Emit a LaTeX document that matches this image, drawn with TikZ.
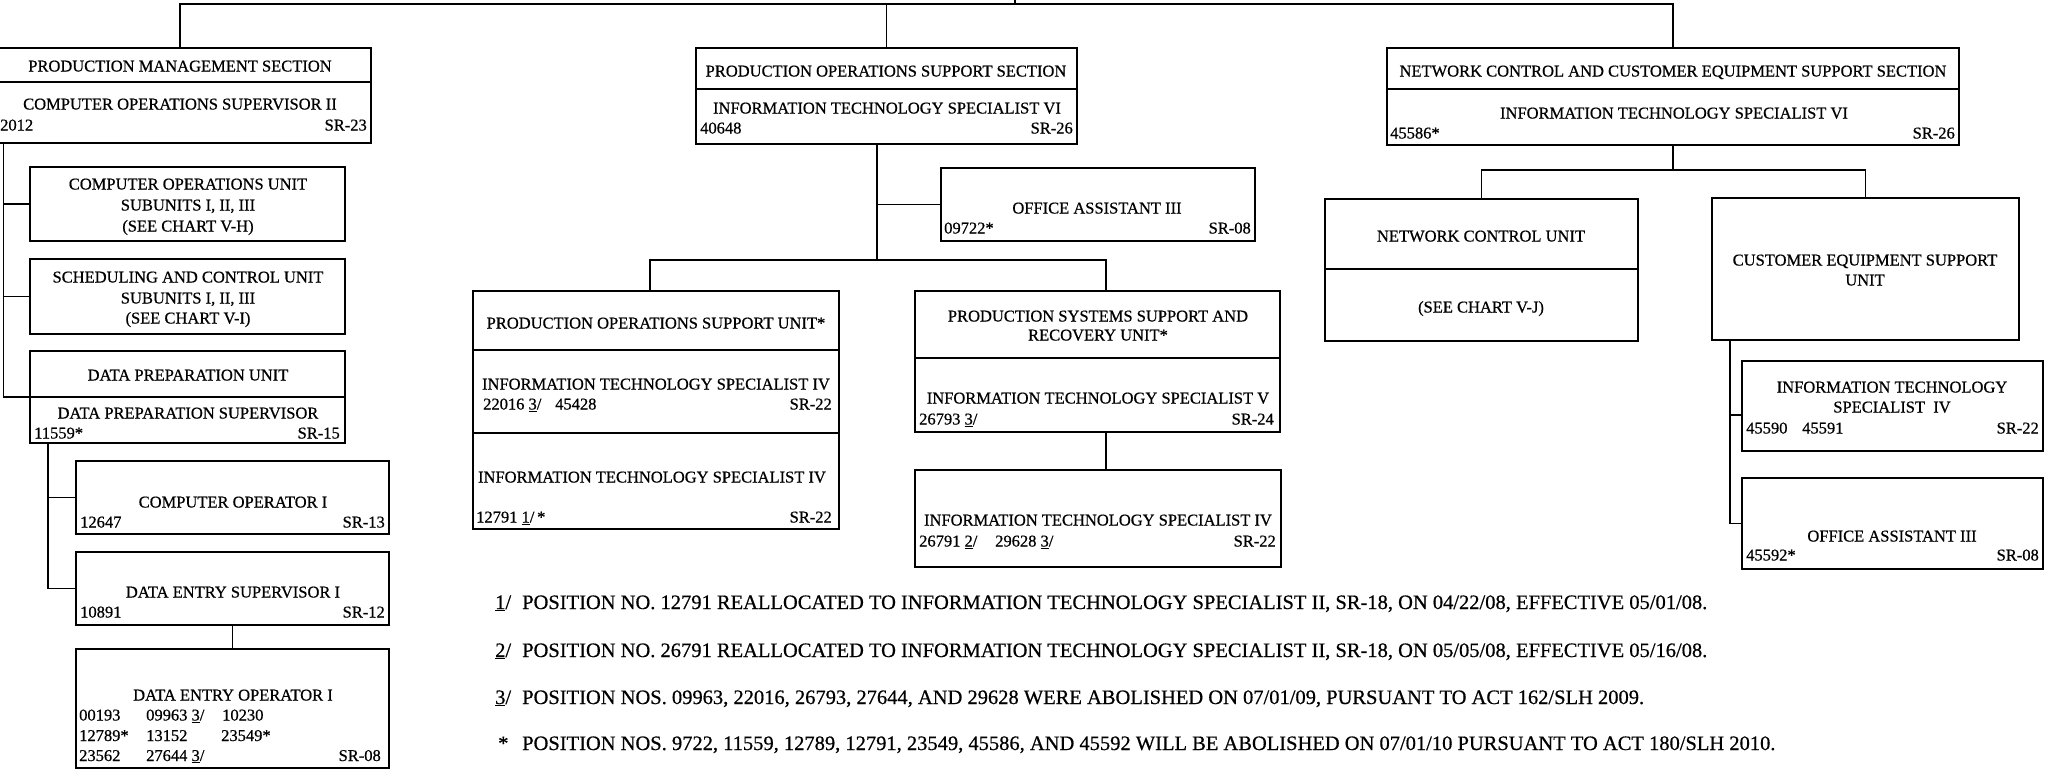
\documentclass[tikz,border=0pt]{standalone}
\usepackage{fontspec}
\setmainfont{Liberation Serif}
% slightly heavier upright face, like ink on a copied page
\newfontfamily\inkfont{Liberation Serif}[FakeBold=0.6]
% footnote reference mark: underlined digit followed by a slash
\newcommand\fnm[1]{\underline{#1}/}
\tikzset{
  box/.style={draw, line width=1.8pt, inner sep=0pt, outer sep=0pt, anchor=north west},
  link/.style={line width=1.8pt},
  lbl/.style={font=\fontsize{16.5}{20}\selectfont\inkfont, inner sep=0pt, anchor=base},
  lblL/.style={lbl, anchor=base west},
  lblR/.style={lbl, anchor=base east},
  note/.style={font=\fontsize{20.5}{24}\selectfont\inkfont, inner sep=0pt, anchor=base west},
}
% \orgbox{name}{left}{top}{right}{bottom}
\newcommand\orgbox[5]{\node[box, minimum width={(#4)-(#2)}, minimum height={(#5)-(#3)}] (#1) at (#2,#3) {};}
% \divline{name}{y}: horizontal rule across a box
\newcommand\divline[2]{\draw[link] (#1.west |- 0,#2) -- (#1.east |- 0,#2);}
\begin{document}
\begin{tikzpicture}[x=1pt,y=-1pt]
\useasboundingbox (0,0) rectangle (2049,772);
\fill[white] (0,0) rectangle (2049,772);
\clip (0,0) rectangle (2049,772);

% ---------- boxes ----------
\orgbox{pms}{-11}{48}{371}{143}
\orgbox{cou}{30}{167}{345}{241}
\orgbox{scu}{30}{259}{345}{334}
\orgbox{dpu}{30}{351}{345}{443}
\orgbox{coi}{76}{461}{389}{534}
\orgbox{des}{76}{552}{389}{625}
\orgbox{deo}{76}{649}{389}{768}
\orgbox{poss}{696}{48}{1077}{144}
\orgbox{oa3}{941}{168}{1255}{241}
\orgbox{posu}{473}{291}{839}{529}
\orgbox{pssr}{915}{291}{1280}{432}
\orgbox{itsv}{915}{470}{1281}{567}
\orgbox{ncces}{1387}{48}{1959}{145}
\orgbox{ncu}{1325}{199}{1638}{341}
\orgbox{cesu}{1712}{198}{2019}{340}
\orgbox{itsr}{1742}{361}{2043}{451}
\orgbox{oar}{1742}{478}{2043}{569}

\divline{pms}{82}
\divline{dpu}{397}
\divline{poss}{89}
\divline{posu}{350}
\divline{posu}{433}
\divline{pssr}{358}
\divline{ncces}{89}
\divline{ncu}{269}

% ---------- connectors ----------
\coordinate (root) at (1015,-5);
\coordinate (bar) at (0,4);
\draw[link] (root) -- (root |- bar);
\draw[link] (pms.north) |- (bar -| ncces.north) -- (ncces.north);
\draw[link] (poss.north) -- (poss.north |- bar);

\coordinate (pmsT) at ([xshift=14.5pt]pms.south west);
\draw[link] (pmsT) |- (cou.west);
\draw[link] (pmsT) |- (scu.west);
\draw[link] (pmsT) |- (dpu.west);

\coordinate (dpuT) at ([xshift=18pt]dpu.south west);
\draw[link] (dpuT) |- (coi.west);
\draw[link] (dpuT) |- (des.west);
\draw[link] (des.south) -- (deo.north);

\coordinate (possT) at ([xshift=181pt]poss.south west);
\coordinate (busA) at (650,260);
\coordinate (busB) at (1106,260);
\draw[link] (possT) |- (oa3.west);
\draw[link] (possT) -- (possT |- busA);
\draw[link] (busA |- posu.north) -- (busA) -- (busB) -- (busB |- pssr.north);
\draw[link] (busB |- pssr.south) -- (busB |- itsv.north);

\coordinate (nbar) at (0,170);
\draw[link] (ncces.south) -- (ncces.south |- nbar);
\draw[link] (ncu.north) |- (cesu.north |- nbar) -- (cesu.north);
\coordinate (cesuT) at ([xshift=18pt]cesu.south west);
\draw[link] (cesuT) |- ([yshift=-9pt]itsr.west);
\draw[link] (cesuT) |- (oar.west);

% ---------- Production Management Section ----------
\node[lbl] (pmsA) at (180,71.5) {PRODUCTION MANAGEMENT SECTION};
\node[lbl] (pmsB) at (180,109.5) {COMPUTER OPERATIONS SUPERVISOR II};
\node[lblL] (pmsC) at (0,130.5) {2012};
\node[lblR] (pmsD) at (367,130.5) {SR-23};

\node[lbl] (couA) at (188,189.5) {COMPUTER OPERATIONS UNIT};
\node[lbl] (couB) at (188,210.5) {SUBUNITS I, II, III};
\node[lbl] (couC) at (188,231.5) {(SEE CHART V-H)};

\node[lbl] (scuA) at (188,282.5) {SCHEDULING AND CONTROL UNIT};
\node[lbl] (scuB) at (188,303.5) {SUBUNITS I, II, III};
\node[lbl] (scuC) at (188,323.5) {(SEE CHART V-I)};

\node[lbl] (dpuA) at (188,380.5) {DATA PREPARATION UNIT};
\node[lbl] (dpuB) at (188,418.5) {DATA PREPARATION SUPERVISOR};
\node[lblL] (dpuC) at (34,438.5) {11559*};
\node[lblR] (dpuD) at (340,438.5) {SR-15};

\node[lbl] (coiA) at (233,507.5) {COMPUTER OPERATOR I};
\node[lblL] (coiB) at (80,527.5) {12647};
\node[lblR] (coiC) at (385,527.5) {SR-13};

\node[lbl] (desA) at (233,597.5) {DATA ENTRY SUPERVISOR I};
\node[lblL] (desB) at (80,617.5) {10891};
\node[lblR] (desC) at (385,617.5) {SR-12};

\node[lbl] (deoA) at (233,700.5) {DATA ENTRY OPERATOR I};
\node[lblL] (deo1a) at (79,720.5) {00193};
\node[lblL] (deo1b) at (146,720.5) {09963 \fnm{3}};
\node[lblL] (deo1c) at (222,720.5) {10230};
\node[lblL] (deo2a) at (79,741) {12789*};
\node[lblL] (deo2b) at (146,741) {13152};
\node[lblL] (deo2c) at (221,741) {23549*};
\node[lblL] (deo3a) at (79,761) {23562};
\node[lblL] (deo3b) at (146,761) {27644 \fnm{3}};
\node[lblR] (deo3c) at (381,761) {SR-08};

% ---------- Production Operations Support Section ----------
\node[lbl] (possA) at (886,76.5) {PRODUCTION OPERATIONS SUPPORT SECTION};
\node[lbl] (possB) at (887,113.5) {INFORMATION TECHNOLOGY SPECIALIST VI};
\node[lblL] (possC) at (700,133.5) {40648};
\node[lblR] (possD) at (1073,133.5) {SR-26};

\node[lbl] (oa3A) at (1097,213.5) {OFFICE ASSISTANT III};
\node[lblL] (oa3B) at (944,233.5) {09722*};
\node[lblR] (oa3C) at (1251,233.5) {SR-08};

\node[lbl] (posuA) at (656,328.5) {PRODUCTION OPERATIONS SUPPORT UNIT*};
\node[lbl] (posuB) at (656,389.5) {INFORMATION TECHNOLOGY SPECIALIST IV};
\node[lblL] (posuC) at (483,409.5) {22016 \fnm{3}};
\node[lblL] (posuD) at (555,409.5) {45428};
\node[lblR] (posuE) at (832,409.5) {SR-22};
\node[lbl] (posuF) at (652,482.5) {INFORMATION TECHNOLOGY SPECIALIST IV};
\node[lblL] (posuG) at (476,522.5) {12791 \fnm{1}\,*};
\node[lblR] (posuH) at (832,522.5) {SR-22};

\node[lbl] (pssrA) at (1098,321.5) {PRODUCTION SYSTEMS SUPPORT AND};
\node[lbl] (pssrB) at (1098,340.5) {RECOVERY UNIT*};
\node[lbl] (pssrC) at (1098,403.5) {INFORMATION TECHNOLOGY SPECIALIST V};
\node[lblL] (pssrD) at (919,424.5) {26793 \fnm{3}};
\node[lblR] (pssrE) at (1274,424.5) {SR-24};

\node[lbl] (itsvA) at (1098,525.5) {INFORMATION TECHNOLOGY SPECIALIST IV};
\node[lblL] (itsvB) at (919,546.5) {26791 \fnm{2}};
\node[lblL] (itsvC) at (995,546.5) {29628 \fnm{3}};
\node[lblR] (itsvD) at (1276,546.5) {SR-22};

% ---------- Network Control and Customer Equipment Support Section ----------
\node[lbl] (nccesA) at (1673,76.5) {NETWORK CONTROL AND CUSTOMER EQUIPMENT SUPPORT SECTION};
\node[lbl] (nccesB) at (1674,118.5) {INFORMATION TECHNOLOGY SPECIALIST VI};
\node[lblL] (nccesC) at (1390,138.5) {45586*};
\node[lblR] (nccesD) at (1955,138.5) {SR-26};

\node[lbl] (ncuA) at (1481,241.5) {NETWORK CONTROL UNIT};
\node[lbl] (ncuB) at (1481,312.5) {(SEE CHART V-J)};

\node[lbl] (cesuA) at (1865,265.5) {CUSTOMER EQUIPMENT SUPPORT};
\node[lbl] (cesuB) at (1865,285.5) {UNIT};

\node[lbl] (itsrA) at (1892,392.5) {INFORMATION TECHNOLOGY};
\node[lbl] (itsrB) at (1892,412.5) {SPECIALIST\enspace IV};
\node[lblL] (itsrC) at (1746,433.5) {45590};
\node[lblL] (itsrD) at (1802,433.5) {45591};
\node[lblR] (itsrE) at (2039,433.5) {SR-22};

\node[lbl] (oarA) at (1892,541.5) {OFFICE ASSISTANT III};
\node[lblL] (oarB) at (1746,560.5) {45592*};
\node[lblR] (oarC) at (2039,560.5) {SR-08};

% ---------- footnotes ----------
\node[note] (n1m) at (495,609) {\fnm{1}};
\node[note] (n1) at (522,609) {POSITION NO. 12791 REALLOCATED TO INFORMATION TECHNOLOGY SPECIALIST II, SR-18, ON 04/22/08, EFFECTIVE 05/01/08.};
\node[note] (n2m) at (495,657) {\fnm{2}};
\node[note] (n2) at (522,657) {POSITION NO. 26791 REALLOCATED TO INFORMATION TECHNOLOGY SPECIALIST II, SR-18, ON 05/05/08, EFFECTIVE 05/16/08.};
\node[note] (n3m) at (495,704) {\fnm{3}};
\node[note] (n3) at (522,704) {POSITION NOS. 09963, 22016, 26793, 27644, AND 29628 WERE ABOLISHED ON 07/01/09, PURSUANT TO ACT 162/SLH 2009.};
\node[note] (n4m) at (498,750) {*};
\node[note] (n4) at (522,750) {POSITION NOS. 9722, 11559, 12789, 12791, 23549, 45586, AND 45592 WILL BE ABOLISHED ON 07/01/10 PURSUANT TO ACT 180/SLH 2010.};
\end{tikzpicture}
\end{document}
